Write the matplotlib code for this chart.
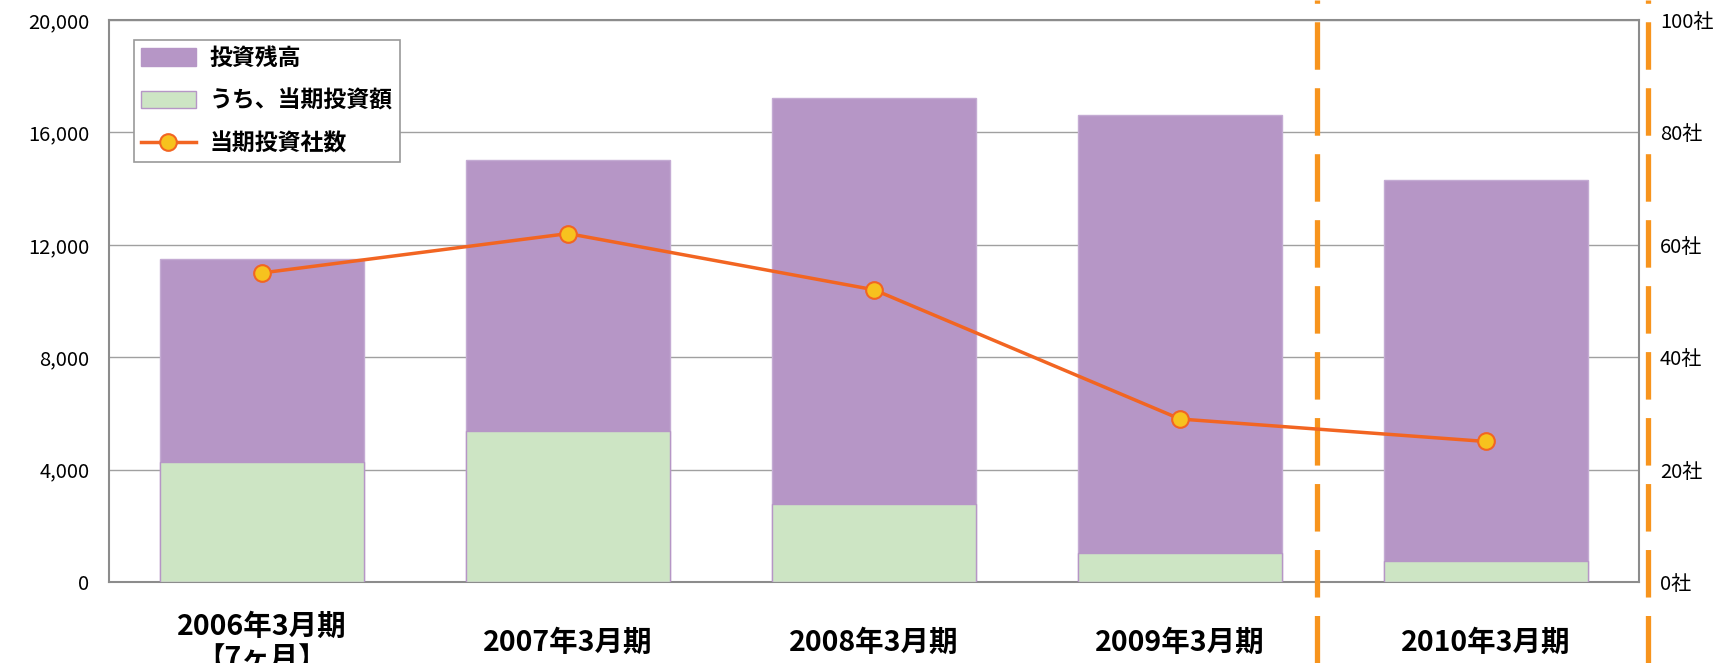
import numpy as np
import matplotlib
matplotlib.use('Agg')
import matplotlib.pyplot as plt
from matplotlib.patches import Patch
from matplotlib.lines import Line2D
from matplotlib.transforms import blended_transform_factory

plt.rcParams['font.family'] = ['Noto Sans CJK JP', 'DejaVu Sans']

# data
periods = ['2006年3月期\n【7ヶ月】', '2007年3月期', '2008年3月期', '2009年3月期', '2010年3月期']
balance = [11500, 15030, 17220, 16630, 14290]      # 投資残高
invest = [4270, 5360, 2780, 1020, 730]             # うち、当期投資額
companies = [55, 62, 52, 29, 25]                   # 当期投資社数

purple = '#B696C6'
green = '#CDE5C4'
orange_line = '#F26522'
marker_face = '#F7C21E'
dash_col = '#F7941D'

fig = plt.figure(figsize=(17.23, 6.63), dpi=100)
ax = fig.add_axes([0.0633, 0.1222, 0.888, 0.8476])

x = np.arange(len(periods))
ax.bar(x, balance, width=0.667, color=purple, edgecolor='#C4ABD3', linewidth=1, zorder=2)
ax.bar(x, invest, width=0.667, color=green, edgecolor=purple, linewidth=1, zorder=3)

ax.set_xlim(-0.5, 4.5)
ax.set_ylim(0, 20000)
ax.set_yticks(np.arange(0, 20001, 4000))
ax.set_yticklabels(['{:,}'.format(v) for v in range(0, 20001, 4000)])
ax.grid(axis='y', color='#a0a0a0', linewidth=1, zorder=0)
ax.set_axisbelow(True)
for s in ax.spines.values():
    s.set_color('#8c8c8c')
    s.set_linewidth(1.5)
ax.tick_params(axis='y', length=0, pad=14, labelsize=14.5)
ax.set_xticks(x)
ax.set_xticklabels(periods, fontsize=20.5, fontweight='bold', linespacing=1.2)
ax.tick_params(axis='x', length=0, pad=44)
for lab in ax.get_xticklabels():
    lab.set_va('center')

ax2 = ax.twinx()
ax2.set_ylim(0, 100)
ax2.set_yticks(np.arange(0, 101, 20))
ax2.set_yticklabels(['{}社'.format(v) for v in range(0, 101, 20)])
ax2.tick_params(axis='y', length=0, pad=15, labelsize=14.5)
for s in ax2.spines.values():
    s.set_visible(False)

# dashed separators running through the full figure height
tr = blended_transform_factory(ax.transData, fig.transFigure)
for xv in [3.448, 4.53]:
    ax2.add_line(Line2D([xv, xv], [0, 1], transform=tr, color=dash_col, linewidth=3.8,
                        linestyle=(0, (9.0, 3.5)), clip_on=False, zorder=1))

ax2.plot(x, companies, color=orange_line, linewidth=2.5, marker='o', markersize=12,
         markerfacecolor=marker_face, markeredgecolor=orange_line, markeredgewidth=1.5, zorder=5)

handles = [Patch(facecolor=purple, edgecolor=purple),
           Patch(facecolor=green, edgecolor=purple),
           Line2D([], [], color=orange_line, linewidth=2.5, marker='o', markersize=12,
                  markerfacecolor=marker_face, markeredgecolor=orange_line, markeredgewidth=1.5)]
labels = ['投資残高', 'うち、当期投資額', '当期投資社数']
leg = ax2.legend(handles, labels, loc='upper left', bbox_to_anchor=(0.0163, 0.964),
                 frameon=True, fancybox=False, framealpha=1, edgecolor='#9a9a9a',
                 prop={'weight': 'bold', 'size': 16.5}, handlelength=2.4, handleheight=0.8,
                 labelspacing=0.85, borderpad=0.3, handletextpad=0.6, borderaxespad=0)
leg.get_frame().set_linewidth(1.2)

plt.savefig('out.png', dpi=100)
